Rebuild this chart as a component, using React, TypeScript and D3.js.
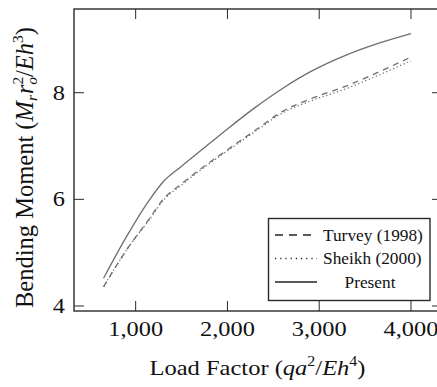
import React from "react";
import * as d3 from "d3";

const loadFactor = [650, 900, 1150, 1300, 1500, 1700, 2000, 2300, 2600, 2900, 3300, 3650, 4000];
const turvey = [4.36, 5.05, 5.64, 6.0, 6.29, 6.56, 6.93, 7.29, 7.65, 7.88, 8.13, 8.39, 8.67];
const sheikh = [4.36, 5.05, 5.62, 5.98, 6.27, 6.54, 6.91, 7.27, 7.62, 7.84, 8.08, 8.33, 8.6];
const present = [4.52, 5.3, 5.99, 6.33, 6.62, 6.9, 7.32, 7.72, 8.08, 8.39, 8.71, 8.93, 9.11];

const xTicks = [1000, 2000, 3000, 4000];
const yTicks = [4, 6, 8];
const legendLabels = ["Turvey (1998)", "Sheikh (2000)", "Present"];

const W = 437;
const H = 387;
const L = 74, R = 442, T = 9, B = 311;
const FONT = "'Liberation Serif', 'Times New Roman', serif";
const LINE = "#6e6e6e";
const AX = "#2a2a2a";

export default function App() {
  const x = d3.scaleLinear().domain([328, 4338]).range([L, R]);
  const y = d3.scaleLinear().domain([3.906, 9.57]).range([B, T]);
  const line = d3
    .line<number>()
    .x((_, i) => x(loadFactor[i]))
    .y((d) => y(d))
    .curve(d3.curveMonotoneX);
  const fmt = d3.format(",");
  const tl = 10;

  const series = [
    { data: turvey, dash: "6,5" },
    { data: sheikh, dash: "1.2,2.6" },
    { data: present, dash: undefined as string | undefined },
  ];
  const legendDash = ["8,6", "1.2,4", undefined];

  return (
    <svg
      width={W}
      height={H}
      style={{ position: "absolute", left: 0, top: 0, background: "#fff" }}
      fontFamily={FONT}
    >
      <defs>
        <clipPath id="plot">
          <rect x={L} y={T} width={R - L} height={B - T} />
        </clipPath>
      </defs>
      <g clipPath="url(#plot)">
        {series.map((s, i) => (
          <path
            key={i}
            d={line(s.data) || ""}
            fill="none"
            stroke={LINE}
            strokeWidth={1.3}
            strokeDasharray={s.dash}
          />
        ))}
      </g>
      <rect x={L} y={T} width={R - L} height={B - T} fill="none" stroke={AX} strokeWidth={1.4} />
      {xTicks.map((t) => (
        <g key={"x" + t}>
          <line x1={x(t)} x2={x(t)} y1={B} y2={B - tl} stroke={AX} strokeWidth={1} />
          <line x1={x(t)} x2={x(t)} y1={T} y2={T + tl} stroke={AX} strokeWidth={1} />
          <text
            transform={`translate(${x(t)},336) scale(1.16,1)`}
            textAnchor="middle"
            fontSize={21}
            fill="#111"
          >
            {fmt(t)}
          </text>
        </g>
      ))}
      {yTicks.map((t) => (
        <g key={"y" + t}>
          <line x1={L} x2={L + tl} y1={y(t)} y2={y(t)} stroke={AX} strokeWidth={1} />
          <line x1={R} x2={R - tl} y1={y(t)} y2={y(t)} stroke={AX} strokeWidth={1} />
          <text
            transform={`translate(65,${y(t) + 7}) scale(1.16,1)`}
            textAnchor="end"
            fontSize={21}
            fill="#111"
          >
            {t}
          </text>
        </g>
      ))}
      <text
        transform="translate(257.5,375) scale(1.14,1)"
        textAnchor="middle"
        fontSize={21.5}
        fill="#111"
      >
        Load Factor (
        <tspan fontStyle="italic">qa</tspan>
        <tspan fontSize={14} dy={-9}>2</tspan>
        <tspan dy={9}>/</tspan>
        <tspan fontStyle="italic">Eh</tspan>
        <tspan fontSize={14} dy={-9}>4</tspan>
        <tspan dy={9}>)</tspan>
      </text>
      <text
        transform="translate(32.5,167.5) rotate(-90)"
        textAnchor="middle"
        fontSize={24.5}
        fill="#111"
      >
        Bending Moment (
        <tspan fontStyle="italic">M</tspan>
        <tspan fontStyle="italic" fontSize={15.5} dy={4}>r</tspan>
        <tspan fontStyle="italic" dy={-4} dx={1}>r</tspan>
        <tspan fontSize={15.5} dy={-10}>2</tspan>
        <tspan fontStyle="italic" fontSize={15.5} dy={14} dx={-8}>o</tspan>
        <tspan dy={-4}>/</tspan>
        <tspan fontStyle="italic">Eh</tspan>
        <tspan fontSize={15.5} dy={-10}>3</tspan>
        <tspan dy={10}>)</tspan>
      </text>
      <rect x={268.5} y={218.5} width={161.5} height={82} fill="#fff" stroke={AX} strokeWidth={1.4} />
      {legendLabels.map((lab, i) => {
        const ly = 235 + i * 23.5;
        return (
          <g key={lab}>
            <line
              x1={275}
              x2={317}
              y1={ly}
              y2={ly}
              stroke="#222"
              strokeWidth={1.3}
              strokeDasharray={legendDash[i]}
            />
            <text
              transform={`translate(${i === 2 ? 370 : 323},${ly + 5.5}) scale(1.05,1)`}
              textAnchor={i === 2 ? "middle" : "start"}
              fontSize={16.5}
              fill="#111"
            >
              {lab}
            </text>
          </g>
        );
      })}
    </svg>
  );
}
